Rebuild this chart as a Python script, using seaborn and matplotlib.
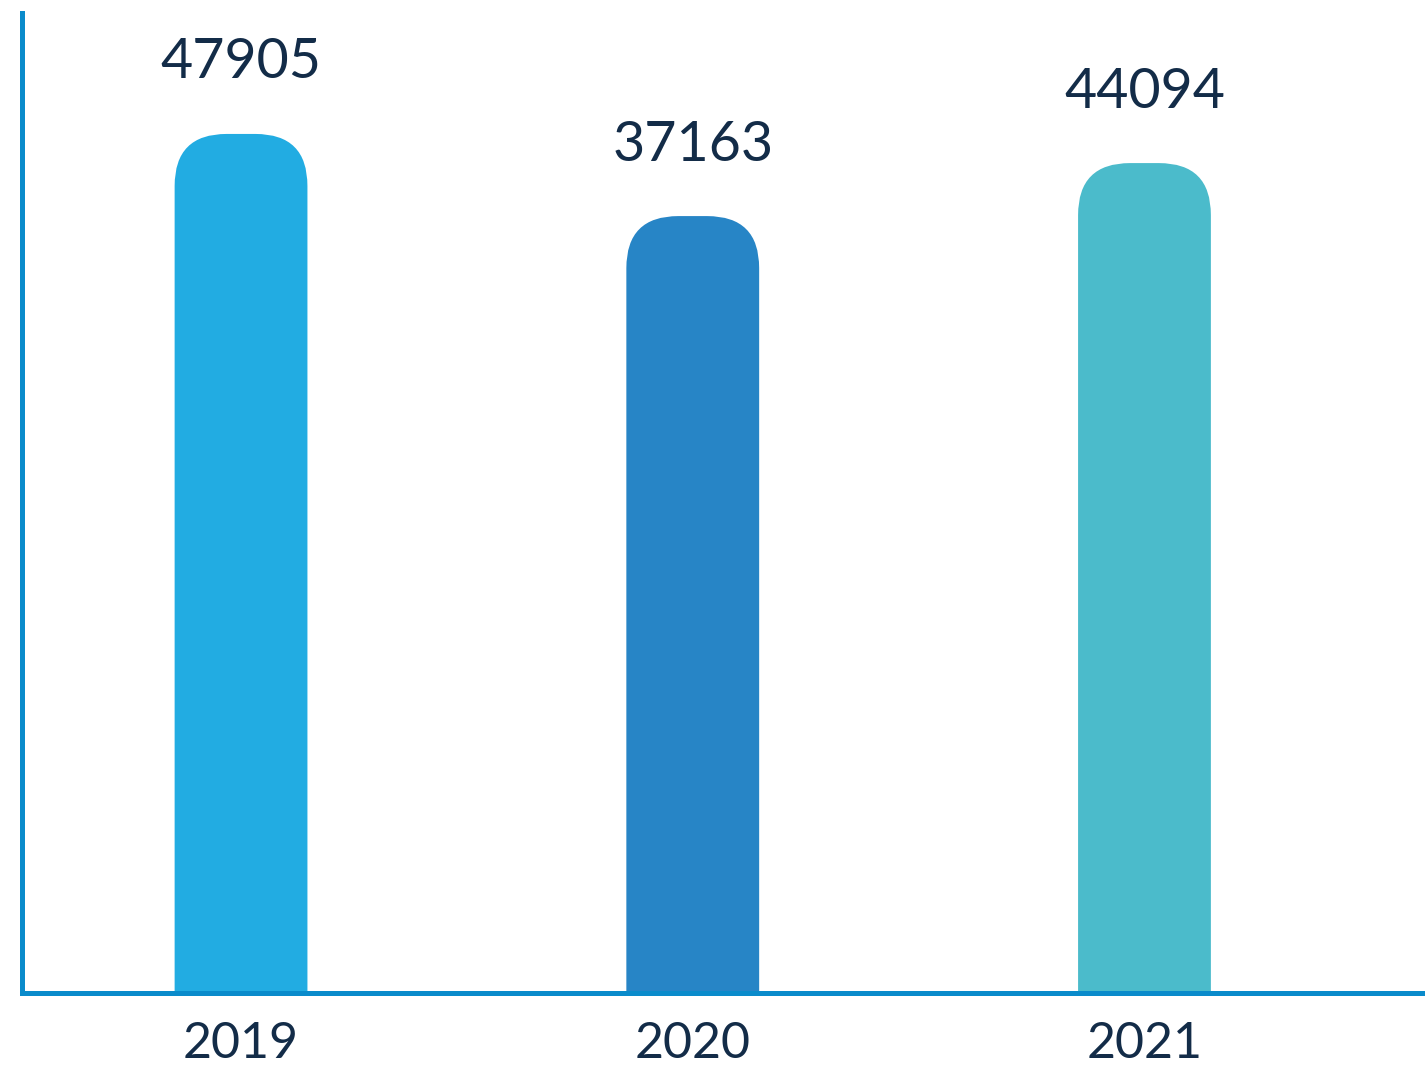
import matplotlib
matplotlib.use("Agg")
import matplotlib.pyplot as plt
import seaborn as sns
from matplotlib.patches import FancyBboxPatch

years = ["2019", "2020", "2021"]
values = [47905, 37163, 44094]
bar_colors = ["#22ACE2", "#2785C6", "#4BBBCB"]

text_color = "#132C48"
axis_color = "#0A8BCB"

sns.set_theme(style="white")
plt.rcParams["font.family"] = ["Lato", "DejaVu Sans"]

fig = plt.figure(figsize=(14.25, 10.69), dpi=100)
ax = fig.add_axes([0.0154, 0.0711, 0.9846, 0.9167])

sns.barplot(x=years, y=values, hue=years, palette=bar_colors,
            width=0.294, legend=False, ax=ax, saturation=1)

# the original chart is not drawn from zero
y_low, y_high = -64439, 63716
ax.set_ylim(y_low, y_high)
ax.set_xlim(-0.485, 2.621)

# swap plain bars for bars with rounded tops
fig.canvas.draw()
px_x = ax.transData.transform((1, 0))[0] - ax.transData.transform((0, 0))[0]
px_y = ax.transData.transform((0, 1))[1] - ax.transData.transform((0, 0))[1]
aspect = px_x / px_y
for p in list(ax.patches):
    x0, w, h = p.get_x(), p.get_width(), p.get_height()
    col = p.get_facecolor()
    p.remove()
    bottom = y_low - 20000
    box = FancyBboxPatch((x0, bottom), w, h - bottom,
                         boxstyle="round,pad=0,rounding_size=0.115",
                         mutation_aspect=aspect, facecolor=col,
                         edgecolor="none", zorder=1)
    ax.add_patch(box)

for i, v in enumerate(values):
    ax.annotate(str(v), (i, v), xytext=(0, 40), textcoords="offset points",
                ha="center", va="baseline", fontsize=40, color=text_color)

ax.set_yticks([])
ax.tick_params(axis="x", length=0, pad=20, labelsize=36, labelcolor=text_color)
ax.set_xlabel("")
ax.set_ylabel("")

for side in ["top", "right"]:
    ax.spines[side].set_visible(False)
for side in ["left", "bottom"]:
    ax.spines[side].set_color(axis_color)
    ax.spines[side].set_linewidth(3.6)

fig.savefig("out.png", dpi=100, facecolor="white")
